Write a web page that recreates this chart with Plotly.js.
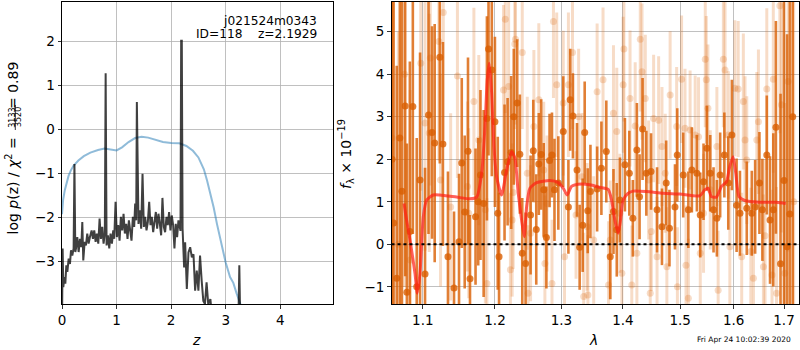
<!DOCTYPE html>
<html><head><meta charset="utf-8">
<script src="https://cdn.plot.ly/plotly-3.0.1.min.js"></script>
<style>html,body{margin:0;padding:0;background:#fff}</style>
</head><body><div id="chart" style="width:800px;height:350px"></div>
<script>
// ---------- left panel: p(z) ----------
const pzZ = [
0.000,0.012,0.024,0.043,0.061,0.079,0.098,0.122,0.146,0.165,
0.189,0.213,0.228,0.244,0.256,0.280,0.305,0.329,0.354,0.372,
0.390,0.415,0.439,0.463,0.488,0.512,0.543,0.567,0.591,0.616,
0.640,0.665,0.689,0.713,0.738,0.762,0.785,0.800,0.817,0.841,
0.866,0.890,0.915,0.939,0.957,0.982,1.006,1.030,1.055,1.079,
1.104,1.128,1.152,1.177,1.201,1.226,1.250,1.274,1.299,1.323,
1.341,1.360,1.372,1.402,1.427,1.451,1.476,1.500,1.524,1.549,
1.573,1.598,1.622,1.646,1.671,1.695,1.720,1.744,1.768,1.793,
1.817,1.841,1.866,1.890,1.915,1.939,1.963,1.988,2.012,2.037,
2.061,2.085,2.110,2.134,2.159,2.172,2.184,2.196,2.210,2.238,
2.257,2.288,2.318,2.349,2.380,2.410,2.440,2.470,2.500,2.530,
2.560,2.590,2.620,2.650,2.680,2.720,2.760,2.900,3.100,3.230,
3.250,3.270,3.400];
const pzLog = [
-4.50,-2.70,-3.58,-3.35,-3.50,-3.08,-3.23,-2.93,-3.05,-2.74,
-2.86,-2.70,-0.78,-2.78,-2.70,-2.44,-2.78,-2.48,-2.67,-2.10,
-2.97,-2.55,-2.63,-2.36,-2.59,-2.44,-2.29,-2.48,-2.29,-2.55,
-2.36,-2.59,-2.02,-2.48,-2.21,-2.59,-2.36,1.28,-2.63,-2.40,
-2.70,-2.36,-2.59,-2.29,-2.48,-1.64,-2.44,-2.17,-2.52,-1.98,
-2.29,-1.91,-2.36,-2.14,-2.48,-2.06,-2.33,-2.52,-1.98,-2.21,
-1.68,-2.06,0.63,-2.14,-1.83,-2.25,-1.00,-2.21,-1.98,-2.29,
-2.10,-1.64,-2.17,-1.98,-2.33,-2.06,-1.87,-2.25,-1.91,-2.14,
-2.40,-1.55,-2.21,-2.33,-1.98,-2.17,-1.87,-2.29,-1.95,-2.17,
-2.70,-2.14,-2.44,-2.06,-2.29,-2.30,2.02,2.02,-2.25,-3.13,
-2.56,-3.62,-2.79,-2.67,-2.90,-2.83,-3.66,-3.20,-3.66,-2.86,
-3.43,-3.89,-3.96,-3.47,-3.96,-3.85,-4.40,-5.00,-5.00,-4.60,
-3.08,-4.60,-6.00];

const priorZ = [0.00,0.02,0.05,0.08,0.12,0.16,0.21,0.30,0.40,0.52,
0.66,0.78,0.90,1.00,1.10,1.22,1.34,1.46,1.58,1.70,
1.85,2.00,2.15,2.28,2.40,2.50,2.60,2.66,2.72,2.78,
2.84,2.92,3.00,3.08,3.14,3.20,3.28,3.33];
const priorLog = [-1.92,-1.60,-1.38,-1.23,-1.05,-0.93,-0.82,-0.70,-0.60,-0.52,
-0.46,-0.43,-0.46,-0.47,-0.40,-0.28,-0.19,-0.16,-0.18,-0.23,
-0.28,-0.30,-0.31,-0.37,-0.48,-0.63,-0.90,-1.16,-1.45,-1.77,
-2.14,-2.60,-3.02,-3.35,-3.48,-3.72,-4.00,-4.30];

const zTicks = [0,1,2,3,4];
const logpTicks = [-3,-2,-1,0,1,2];

// ---------- right panel: spectrum ----------
const darkWave = [
1.0600,1.0620,1.0660,1.0700,1.0727,1.0769,1.0791,1.0830,1.0869,1.0920,
1.0964,1.1030,1.1076,1.1123,1.1159,1.1228,1.1270,1.1339,1.1422,1.1491,
1.1529,1.1570,1.1616,1.1644,1.1722,1.1760,1.1792,1.1837,1.1884,1.1907,
1.1954,1.1999,1.2040,1.2059,1.2139,1.2184,1.2236,1.2275,1.2326,1.2365,
1.2401,1.2451,1.2526,1.2567,1.2612,1.2651,1.2687,1.2726,1.2767,1.2816,
1.2853,1.2892,1.2952,1.3029,1.3110,1.3138,1.3182,1.3247,1.3289,1.3338,
1.3370,1.3419,1.3463,1.3572,1.3642,1.3723,1.3788,1.3842,1.3897,1.3950,
1.4034,1.4109,1.4169,1.4238,1.4284,1.4336,1.4401,1.4483,1.4588,1.4675,
1.4750,1.4808,1.4907,1.4948,1.5056,1.5149,1.5213,1.5306,1.5368,1.5429,
1.5493,1.5554,1.5616,1.5679,1.5741,1.5821,1.5896,1.5965,1.6056,1.6121,
1.6254,1.6353,1.6419,1.6504,1.6563,1.6651,1.6716,1.6782,1.6835,1.6929,
1.7000,1.7063,1.7120,1.7180];
const darkFlux = [
2.00,0.50,-0.80,2.50,1.25,3.25,-1.13,0.30,3.24,-1.00,
1.51,-0.70,3.04,2.63,2.38,4.40,2.36,-0.29,-1.03,0.06,
1.91,0.76,2.19,-0.81,0.65,1.00,1.63,0.96,2.96,4.59,
4.10,2.88,0.73,-0.29,1.69,1.94,2.16,3.00,3.32,2.12,
-0.21,-0.45,0.69,2.20,0.35,1.89,2.11,1.28,0.16,1.97,
2.10,1.28,1.44,2.65,0.88,3.40,3.02,1.75,-0.07,0.45,
2.63,0.79,1.24,1.30,1.79,2.18,-0.29,0.77,0.34,1.04,
1.87,1.67,0.61,2.22,1.12,2.71,1.67,1.71,0.81,0.41,
1.44,0.38,0.88,2.10,1.63,0.81,1.75,1.67,0.69,1.47,
2.26,1.67,0.81,0.61,1.63,2.10,1.44,2.57,0.92,0.73,
0.85,0.73,0.88,1.44,0.81,2.10,0.57,0.81,2.75,-0.46,
1.50,-0.06,0.71,3.00];
const darkErr = [
6.0,6.0,5.0,5.0,4.5,4.0,3.5,4.0,3.0,3.5,
3.0,2.5,2.8,2.5,2.8,2.5,2.4,2.0,1.8,1.6,
2.0,1.8,2.2,1.5,1.6,1.5,2.0,2.2,2.4,2.5,
2.5,2.0,1.8,1.5,1.6,1.5,1.8,1.6,1.5,1.4,
1.3,1.2,1.4,1.2,1.3,1.2,1.3,1.1,1.2,1.1,
1.0,1.2,1.1,1.3,1.1,1.2,1.0,1.1,1.0,1.1,
1.2,1.0,1.1,1.0,1.1,1.2,1.0,1.0,1.1,1.0,
1.1,1.0,0.9,1.1,1.0,1.2,1.0,0.9,1.0,0.9,
1.0,0.9,1.0,1.1,1.0,0.9,1.0,0.9,1.0,0.9,
1.0,0.9,1.0,0.9,1.0,1.0,1.1,1.3,1.1,1.0,
1.1,1.0,1.1,1.2,1.2,1.4,1.5,1.8,2.5,4.0,
5.0,5.0,5.0,6.0];

const lightWave = [
1.0600,1.0680,1.0760,1.0834,1.0973,1.1030,1.1086,1.1100,1.1215,1.1238,
1.1275,1.1376,1.1469,1.1608,1.1626,1.1699,1.1768,1.1861,1.1884,1.2124,
1.2150,1.2199,1.2225,1.2251,1.2266,1.2290,1.2300,1.2401,1.2476,1.2488,
1.2526,1.2576,1.2651,1.2726,1.2744,1.2777,1.2853,1.2876,1.2927,1.3029,
1.3049,1.3110,1.3175,1.3231,1.3273,1.3328,1.3354,1.3409,1.3422,1.3516,
1.3572,1.3669,1.3760,1.3788,1.3842,1.3897,1.3950,1.3983,1.4004,1.4017,
1.4121,1.4151,1.4209,1.4238,1.4296,1.4326,1.4383,1.4441,1.4469,1.4488,
1.4528,1.4588,1.4616,1.4675,1.4733,1.4762,1.4820,1.4937,1.4950,1.5026,
1.5088,1.5106,1.5149,1.5181,1.5274,1.5336,1.5368,1.5429,1.5461,1.5480,
1.5511,1.5554,1.5679,1.5703,1.5802,1.5834,1.5896,1.5926,1.6022,1.6087,
1.6155,1.6187,1.6220,1.6254,1.6333,1.6385,1.6452,1.6484,1.6583,1.6616,
1.6651,1.6756,1.6782,1.6848,1.6915,1.6948,1.7015,1.7084,1.7200];
const lightFlux = [
2.50,0.00,4.00,-0.37,4.26,2.85,2.62,4.38,4.77,1.51,
5.45,0.88,3.96,1.36,0.73,3.36,2.45,0.81,-0.92,3.63,
5.29,3.71,-0.60,0.57,1.22,4.71,4.82,4.51,1.67,-1.15,
0.26,2.77,3.40,1.75,-0.45,0.96,-0.92,5.24,3.75,3.32,
-0.29,3.75,4.51,0.69,3.00,1.59,-1.23,0.41,-1.19,0.10,
3.59,3.87,-0.96,0.10,3.08,2.65,0.73,-0.68,3.75,4.59,
3.43,-0.96,2.78,-0.21,4.82,4.06,3.43,1.51,-1.15,0.30,
2.96,-0.29,2.92,2.30,1.67,-0.53,3.51,2.77,-1.00,3.88,
2.73,-0.49,-1.27,2.69,2.57,2.53,-0.21,0.73,4.35,3.87,
3.20,1.28,2.30,-1.08,4.35,4.10,2.57,-0.06,3.67,3.65,
-0.29,3.36,2.45,1.98,-0.17,-0.80,2.45,2.88,-0.53,0.20,
3.65,-0.72,3.88,-1.15,5.61,3.28,-0.68,3.83,1.00];
const lightErr = [
6.0,5.0,5.0,4.0,3.0,3.0,2.8,3.0,2.8,2.5,
3.0,2.2,2.4,2.0,2.0,2.2,2.0,2.2,2.0,2.0,
2.2,2.0,1.8,1.8,1.8,2.0,2.0,1.8,1.8,1.6,
1.6,1.8,1.8,1.6,1.6,1.6,1.5,1.8,1.7,1.7,
1.5,1.7,1.8,1.5,1.6,1.5,1.5,1.5,1.4,1.5,
1.6,1.7,1.5,1.4,1.6,1.5,1.4,1.5,1.6,1.7,
1.6,1.4,1.5,1.4,1.7,1.6,1.5,1.4,1.4,1.4,
1.5,1.4,1.5,1.4,1.4,1.4,1.5,1.4,1.4,1.5,
1.4,1.4,1.4,1.4,1.4,1.4,1.4,1.4,1.6,1.5,
1.5,1.4,1.4,1.4,1.6,1.6,1.5,1.4,1.6,1.6,
1.5,1.6,1.5,1.5,1.5,1.5,1.6,1.7,1.7,1.8,
1.9,2.0,2.2,2.5,3.0,3.0,4.0,4.0,6.0];

const modelWave = [
1.0754,1.0780,1.0832,1.0897,1.0927,1.0963,1.1007,1.1052,1.1140,1.1230,
1.1458,1.1643,1.1738,1.1809,1.1856,1.1889,1.1917,1.1952,1.1985,1.2024,
1.2096,1.2170,1.2243,1.2292,1.2341,1.2391,1.2430,1.2466,1.2516,1.2617,
1.2821,1.2950,1.3028,1.3091,1.3160,1.3265,1.3454,1.3617,1.3754,1.3810,
1.3865,1.3920,1.3960,1.4004,1.4089,1.4174,1.4404,1.4695,1.4994,1.5359,
1.5452,1.5514,1.5577,1.5671,1.5766,1.5861,1.5924,1.5988,1.6040,1.6104,
1.6215,1.6510,1.6846,1.7035];
const modelFlux = [
0.96,0.65,0.10,-0.68,-1.15,-0.68,0.65,1.04,1.16,1.16,
1.11,1.07,1.11,1.67,2.77,3.87,4.26,3.55,2.30,1.59,
1.16,1.75,2.18,2.02,1.20,0.57,0.18,0.88,1.32,1.45,
1.50,1.45,1.32,1.16,1.36,1.41,1.40,1.34,1.29,1.04,
0.57,0.26,0.57,1.04,1.20,1.25,1.24,1.20,1.18,1.14,
1.28,1.32,1.12,1.11,1.36,1.47,1.83,2.06,1.67,1.12,
1.03,0.99,0.99,0.96];

const waveTicks = [1.1,1.2,1.3,1.4,1.5,1.6,1.7];
const waveTickText = ['1.1','1.2','1.3','1.4','1.5','1.6','1.7'];
const fluxTicks = [-1,0,1,2,3,4,5];

// ---------- layout helpers (pixel -> paper) ----------
const W = 800, H = 350, mL = 62, mR = 1, mT = 2, mB = 46;
const PW = W - mL - mR, PH = H - mT - mB;
const px = x => (x - mL) / PW;
const py = y => (H - mB - y) / PH;

const FONT = 'DejaVu Sans, sans-serif';
const darkCol = 'rgba(217,95,2,0.8)';
const lightCol = 'rgba(217,95,2,0.22)';

const traces = [
  {x: priorZ, y: priorLog, mode: 'lines', xaxis: 'x', yaxis: 'y',
   line: {color: 'rgba(31,119,180,0.5)', width: 2}, hoverinfo: 'skip'},
  {x: pzZ, y: pzLog, mode: 'lines', xaxis: 'x', yaxis: 'y',
   line: {color: 'rgba(0,0,0,0.75)', width: 2}, hoverinfo: 'skip'},
  {x: lightWave, y: lightFlux, mode: 'markers', xaxis: 'x2', yaxis: 'y2',
   marker: {color: lightCol, size: 7},
   error_y: {type: 'data', array: lightErr, visible: true, color: lightCol, thickness: 3, width: 0},
   hoverinfo: 'skip'},
  {x: darkWave, y: darkFlux, mode: 'markers', xaxis: 'x2', yaxis: 'y2',
   marker: {color: darkCol, size: 7},
   error_y: {type: 'data', array: darkErr, visible: true, color: darkCol, thickness: 2.6, width: 0},
   hoverinfo: 'skip'},
  {x: modelWave, y: modelFlux, mode: 'lines', xaxis: 'x2', yaxis: 'y2',
   line: {color: 'rgba(255,30,20,0.7)', width: 3, shape: 'spline', smoothing: 0.6}, hoverinfo: 'skip'}
];

const axCommon = {
  showline: true, mirror: true, linecolor: '#000', linewidth: 1,
  ticks: 'outside', ticklen: 3.5, tickwidth: 0.8, tickcolor: '#000',
  showgrid: true, gridcolor: '#b0b0b0', gridwidth: 0.8,
  zeroline: false, tickfont: {family: FONT, size: 13.5, color: '#000'}
};

const layout = {
  width: W, height: H, showlegend: false,
  paper_bgcolor: '#fff', plot_bgcolor: '#fff',
  margin: {l: mL, r: mR, t: mT, b: mB},
  font: {family: FONT, color: '#000'},
  xaxis: Object.assign({}, axCommon, {domain: [0, px(333)], range: [0, 4.967],
    tickvals: zTicks, anchor: 'y'}),
  yaxis: Object.assign({}, axCommon, {domain: [0, 1], range: [-3.961, 2.902],
    tickvals: logpTicks, anchor: 'x'}),
  xaxis2: Object.assign({}, axCommon, {domain: [px(391.5), 1], type: 'log',
    range: [Math.log10(1.0593), Math.log10(1.731)],
    tickvals: waveTicks, ticktext: waveTickText, anchor: 'y2'}),
  yaxis2: Object.assign({}, axCommon, {domain: [0, 1], range: [-1.404, 5.698],
    tickvals: fluxTicks, anchor: 'x2'}),
  shapes: [
    {type: 'line', xref: 'x2 domain', yref: 'y2', x0: 0, x1: 1, y0: 0, y1: 0,
     line: {color: '#000', width: 2, dash: 'dot'}, layer: 'above'},
    {type: 'line', xref: 'paper', yref: 'paper', x0: px(15.3), x1: px(15.3),
     y0: py(105), y1: py(130), line: {color: '#000', width: 0.8}}
  ],
  annotations: [
    {text: 'j021524m0343', xref: 'paper', yref: 'paper', x: px(318.5), y: py(20.5),
     xanchor: 'right', yanchor: 'middle', showarrow: false, font: {family: FONT, size: 12.2}},
    {text: 'ID=118\u00a0\u00a0\u00a0\u00a0z=2.1929', xref: 'paper', yref: 'paper', x: px(318.5), y: py(34),
     xanchor: 'right', yanchor: 'middle', showarrow: false, font: {family: FONT, size: 12.2}},
    {text: 'log <i>p</i>(z) / <i>χ</i><sup>2</sup> =', xref: 'paper', yref: 'paper',
     x: px(12.5), y: py(186), textangle: -90, xanchor: 'center', yanchor: 'middle',
     showarrow: false, font: {family: FONT, size: 14}},
    {text: '3133', xref: 'paper', yref: 'paper', x: px(12.3), y: py(117.5), textangle: -90,
     xanchor: 'center', yanchor: 'middle', showarrow: false, font: {family: FONT, size: 8}},
    {text: '3520', xref: 'paper', yref: 'paper', x: px(18.6), y: py(117.5), textangle: -90,
     xanchor: 'center', yanchor: 'middle', showarrow: false, font: {family: FONT, size: 8}},
    {text: '= 0.89', xref: 'paper', yref: 'paper', x: px(12.5), y: py(85.5), textangle: -90,
     xanchor: 'center', yanchor: 'middle', showarrow: false, font: {family: FONT, size: 14}},
    {text: '<i>f</i><sub>λ</sub> × 10<sup>−19</sup>', xref: 'paper', yref: 'paper',
     x: px(346), y: py(154), textangle: -90, xanchor: 'center', yanchor: 'middle',
     showarrow: false, font: {family: FONT, size: 14}},
    {text: '<i>z</i>', xref: 'paper', yref: 'paper', x: px(196.7), y: py(340),
     xanchor: 'center', yanchor: 'middle', showarrow: false, font: {family: FONT, size: 14}},
    {text: '<i>λ</i>', xref: 'paper', yref: 'paper', x: px(593.3), y: py(340),
     xanchor: 'center', yanchor: 'middle', showarrow: false, font: {family: FONT, size: 14}},
    {text: 'Fri Apr 24 10:02:39 2020', xref: 'paper', yref: 'paper', x: px(744), y: py(339.7),
     xanchor: 'center', yanchor: 'middle', showarrow: false, font: {family: FONT, size: 7.5}}
  ]
};

Plotly.newPlot('chart', traces, layout, {displayModeBar: false, staticPlot: true});
</script></body></html>
